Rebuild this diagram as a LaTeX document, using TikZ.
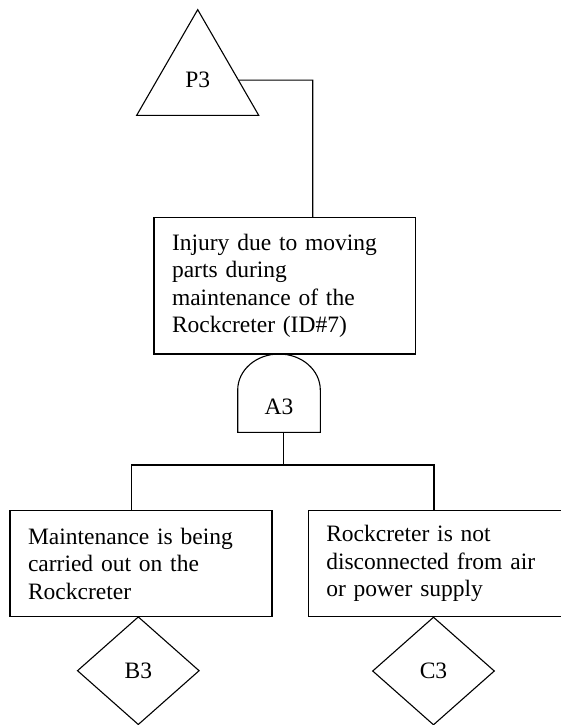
\documentclass[tikz,border=0pt]{standalone}
\usepackage{fontspec}
\setmainfont{Liberation Serif}
\usetikzlibrary{shapes.geometric}
\tikzset{
  ln/.style={line width=1.1pt},
  txt/.style={font=\fontsize{23.5}{27.5}\selectfont},
  evbox/.style={draw, ln, rectangle, txt, align=left, inner xsep=18pt, inner ysep=0pt},
  basicev/.style={draw, ln, diamond, txt, minimum width=122pt, minimum height=108pt, inner sep=0pt},
  transfer/.style={draw, ln, regular polygon, regular polygon sides=3, minimum size=140.9pt, inner sep=0pt, txt}
}
\begin{document}
\begin{tikzpicture}[x=1pt,y=-1pt]
\clip (0,0) rectangle (561,725);
\node[transfer] (p3) at (197.7,80.1) {P3};
\node[evbox, text width=225.7pt, minimum height=136.7pt] (top) at (284.85,285.65)
  {Injury due to moving\\parts during\\maintenance of the\\Rockcreter (ID\#7)};
\draw[ln] (237.7,432.3) -- (237.7,390) .. controls (237.7,370.1) and (256.2,354) .. (279,354)
  .. controls (301.8,354) and (320.3,370.1) .. (320.3,390) -- (320.3,432.3) -- cycle;
\node[txt, inner sep=0pt] (a3) at (279,406.7) {A3};
\node[evbox, text width=226pt, minimum height=106pt] (left) at (141,563.7)
  {Maintenance is being\\carried out on the\\Rockcreter};
\node[evbox, text width=226pt, minimum height=106pt] (right) at (439.3,563.7)
  {Rockcreter is not\\disconnected from air\\or power supply};
\node[basicev] (b3) at (138.3,670.7) {B3};
\node[basicev] (c3) at (433.5,671) {C3};
\coordinate (k1) at (312.7,80.1);
\draw[ln] (p3.east) -- (k1) -- (k1 |- top.north);
\coordinate (g) at (283.3,432.3);
\coordinate (bl) at (131.7,465);
\coordinate (br) at (434,465);
\draw[ln] (g) -- (g |- bl);
\draw[ln] (bl |- left.north) -- (bl) -- (br) -- (br |- right.north);
\end{tikzpicture}
\end{document}
